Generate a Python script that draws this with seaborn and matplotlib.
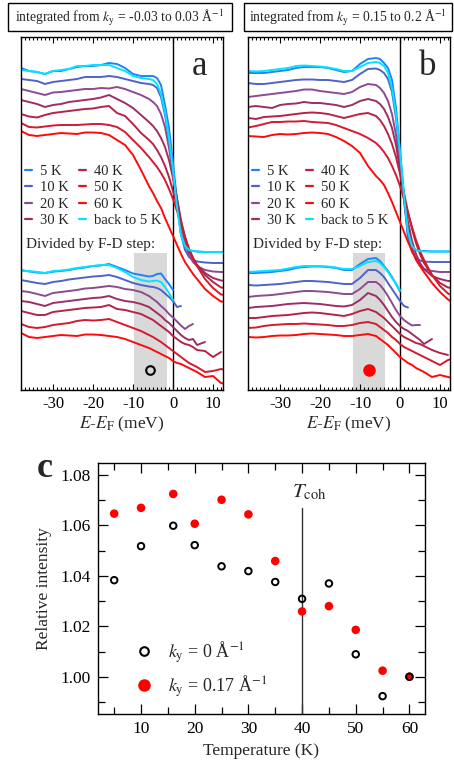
import numpy as np
import pandas as pd
import matplotlib
matplotlib.use("Agg")
import matplotlib.pyplot as plt
import seaborn as sns
from matplotlib.lines import Line2D
from matplotlib.patches import Rectangle
from matplotlib.ticker import MultipleLocator, FormatStrFormatter

NA = np.nan

# ---------------- energy axis shared by all spectra (meV) ----------------
energy = [-38, -36, -34, -32, -30, -28, -26, -24, -22, -20, -18, -16, -14, -12, -10, -8,
          -6, -5, -4, -3, -2, -1, 0, 1, 2, 3, 4, 5, 6, 8, 10, 12, 13]

temp_labels = ["5 K", "10 K", "20 K", "30 K", "40 K", "50 K", "60 K", "back to 5 K"]
temp_colors = ["#1e82ff", "#4f62c9", "#8b4a93", "#9e2d62", "#b52347", "#d41a2e", "#ff0a0a", "#00e5ff"]

# ---------------- panel a: k_y = -0.03 .. 0.03, raw EDCs (offset, arb. units) ----------------
raw_a_5 = [322, 319, 318, 316, 319, 319, 321, 323, 324, 324, 325, 327, 326, 322, 316, 314,
           314, 314, 312, 305, 285, 262, 227, 190, 155, 144, 140, 139, 138.5, 138, 138, 138, 138]
raw_a_10 = [311, 310, 309, 306, 308, 309, 310, 311, 313, 313, 313, 314, 313, 311, 309, 307,
            306, 305, 302, 293, 275, 250, 218, 185, 156, 140, 133, 130, 128.5, 127.5, 127, 127, 127]
raw_a_20 = [301, 299, 297, 295, 297.5, 298, 299, 300, 301, 301, 302, 301.5, 303, 301, 298, 295,
            291, 288, 284, 276, 263, 242, 216, 190, 166, 147, 135, 128, 124, 120, 118.5, 118, 118]
raw_a_30 = [290, 288, 286, 283, 285, 286, 288, 289, 290, 291, 292.5, 295, 291, 287, 282, 275,
            268, 264, 259, 252, 243, 230, 212, 192, 170, 152, 139, 131, 125, 117, 112, 109.5, 109]
raw_a_40 = [276, 273.5, 272.5, 275, 277, 278, 279, 280, 281, 281.5, 283, 284, 277, 274, 266, 257,
            250, 246, 240, 233, 224, 213, 199, 184, 168, 153, 141, 132, 125, 115, 108, 102.5, 102]
raw_a_50 = [267, 263, 262.5, 263.5, 264.5, 265, 265, 265, 265.5, 266, 266, 265, 263, 258, 250, 242,
            233, 228, 223, 217, 210, 201, 191, 179, 166, 153, 141, 132, 124, 111, 102, 95.5, 95]
raw_a_60 = [259, 255, 254, 255, 256, 257, 256.5, 256, 257.5, 257.5, 257, 255, 250, 245, 235, 220,
            204, 197, 189, 182, 172, 163, 154, 145, 136, 128, 122, 116, 111, 101, 94, 88.5, 88]
raw_a_back = [320, 319, 318, 316, 319, 320, 321, 324, 324, 325, 325, 325, 322, 319, 314, 312,
              311, 310, 306, 296, 278, 252, 220, 183, 155, 144, 140, 139, 138.5, 138, 138, 138, 138]

# panel a: EDCs divided by the Fermi-Dirac step
div_a_5 = [120, 118.5, 117.5, 117, 118.3, 119, 120, 121.5, 122.5, 124, 124.5, 126, 123, 120, 116.5, 115,
           113.5, 114, 116, 116.5, 111, 106, 100, NA, NA, NA, NA, NA, NA, NA, NA, NA, NA]
div_a_10 = [110, 108.5, 107, 106, 108, 109, 110.5, 111.5, 112.5, 113.5, 114, 115, 113, 110, 107, 105,
            103.5, 103, 102, 100, 96.5, 93, 89, 83, 84, NA, NA, NA, NA, NA, NA, NA, NA]
div_a_20 = [99, 98, 96, 94, 97, 98, 99, 100, 101.5, 102, 103, 104, 103, 101, 100, 98,
            94, 91, 88, 84, 80.5, 76, 72.5, 68.5, 64.5, 61, 64, 66, NA, NA, NA, NA, NA]
div_a_30 = [89, 88, 86, 84, 87, 88, 89, 90, 91, 92, 92.5, 94, 91, 89, 88, 86,
            83, 80, 77, 74, 70, 67, 63, 59, 55, 52, 50, 51, 45, 48, NA, NA, NA]
div_a_40 = [79, 77, 75, 75, 78, 79, 80, 81, 82, 82.5, 83, 85, 81, 80, 78, 76,
            72, 70, 67, 64, 61, 58, 54, 51, 48, 46, 45, 43, 40, 39, 33, 38, NA]
div_a_50 = [66, 63, 62, 63, 65, 66, 67, 69, 70, 69.5, 70, 71, 68, 65, 62, 59,
            55, 53, 50.5, 48, 45, 42, 39, 36, 33, 30, 27, 25, 23, 18, 19, 21, 20]
div_a_60 = [57, 53, 52, 53, 54, 55, 54.5, 54, 55.5, 55.5, 55, 54, 53, 51, 48, 45,
            42, 40, 38, 36, 34, 32, 29, 27, 26, 24, 22, 20, 18, 13, 14, 7, 6]
div_a_back = [119, 119, 118, 117, 119, 119.5, 120.5, 122, 123, 124, 125, 125, 122, 118, 113, 110,
              108.5, 109, 109.5, 108, 103, 97, 90, NA, NA, NA, NA, NA, NA, NA, NA, NA, NA]

# ---------------- panel b: k_y = 0.15 .. 0.2, raw EDCs ----------------
raw_b_5 = [317, 317, 317, 318, 319, 320, 322, 323, 323, 323, 322, 320, 318, 319, 326, 331,
           332, 331, 327, 322, 310, 282, 240, 195, 152, 143, 140, 139, 139, 138.5, 138.5, 138.5, 138.5]
raw_b_10 = [307, 306, 306, 307, 308, 309, 310, 310.5, 310.5, 310, 310, 309, 308, 310, 316, 321,
            321.5, 320, 317, 311, 298, 272, 233, 190, 154, 138, 132, 129.5, 128.5, 128, 128, 128, 128]
raw_b_20 = [293, 294, 295, 296, 297, 298, 299, 300.5, 300.5, 299, 298, 297, 296, 298, 303, 306,
            305, 302, 297, 289, 276, 255, 224, 190, 161, 142, 130, 124, 121, 119, 118, 118, 118]
raw_b_30 = [283, 284, 283, 282, 285, 286, 286.5, 288, 287, 287, 286, 285, 283, 285, 289, 291,
            289, 286, 281, 273, 262, 245, 220, 193, 168, 149, 136, 127, 121, 114, 111, 109, 109]
raw_b_40 = [272, 271, 273, 273.5, 274, 275, 276, 277, 277.5, 277, 276, 274, 272, 274, 276, 277,
            274, 270, 264, 256, 246, 233, 216, 197, 178, 161, 147, 136, 127, 115, 107, 102.5, 102]
raw_b_50 = [262.5, 264, 266, 268, 268, 268.5, 268.5, 269, 268, 267.5, 267, 265, 262, 259, 256, 252,
            247, 243, 238, 232, 224, 215, 204, 191, 177, 163, 150, 139, 130, 115, 104, 96.5, 95]
raw_b_60 = [254, 253.5, 253, 255, 256, 255.5, 256, 257, 257.5, 257, 256, 253, 249, 244, 237, 224,
            214, 210, 205, 197, 188, 178, 168, 158, 148, 139, 131, 124, 118, 107, 98, 90.5, 88]
raw_b_back = [319, 318.5, 319, 320, 321, 322, 324, 324.5, 324, 323.5, 322.5, 321, 319, 319, 323, 327,
              328, 327, 324, 317, 302, 276, 237, 194, 158, 144, 140, 139, 138.5, 138.5, 138.5, 138.5, 138.5]

# panel b: EDCs divided by the Fermi-Dirac step
div_b_5 = [117, 117, 117.5, 118, 119, 120, 122, 123, 123.5, 123.5, 123, 122, 120, 120, 126, 131,
           132, 129, 124, 119, 113, 106, 98.5, NA, NA, NA, NA, NA, NA, NA, NA, NA, NA]
div_b_10 = [105, 104.5, 105, 105.5, 106, 107, 108, 109, 109, 108.5, 108, 107, 106, 106, 112, 120,
            120, 117, 113, 107, 101, 95, 89, 84, 82.5, NA, NA, NA, NA, NA, NA, NA, NA]
div_b_20 = [93, 94, 94.5, 95, 96, 97, 98, 99, 99, 98.5, 98, 97, 96, 96, 101, 108,
            108, 105, 100, 94, 87, 80, 74, 70, 67, 64.5, 65, 65, NA, NA, NA, NA, NA]
div_b_30 = [82, 83, 83.5, 84, 85, 86, 86.5, 87, 86.5, 86, 85, 84, 83.5, 85, 90, 97,
            94, 90, 85, 79, 73, 68, 64, 61, 59, 56, 53, 50, 46, 51, NA, NA, NA]
div_b_40 = [72, 72, 73, 74, 74.5, 75, 76, 77, 77.5, 77, 76, 75, 74, 76, 79, 81,
            78, 75, 72, 68, 64, 60, 56, 53, 51, 49, 47, 46, 44, 40, 37, 35, NA]
div_b_50 = [62, 62.5, 64, 65, 65.5, 66, 66, 66.5, 66, 65.5, 65, 64, 64, 65, 67, 68,
            66, 63, 60, 57, 53, 50, 46, 43, 41, 39, 37, 35, 33, 29, 25, 30, 31]
div_b_60 = [53, 52.5, 53, 54, 54.5, 54.5, 55, 56, 56.5, 56, 55.5, 55, 54, 54, 55, 56,
            54, 51, 48, 45, 41, 37, 33, 30, 27, 25, 22, 20, 18, 13, 15, 13, 12]
div_b_back = [118, 118.5, 119, 119.5, 120, 121.5, 123, 124, 124, 124, 123.5, 122.5, 121, 121, 124, 128,
              129, 127, 123, 118, 112, 106, 100, NA, NA, NA, NA, NA, NA, NA, NA, NA, NA]

# integration windows (meV) and the corresponding marker height
window_a = (-9.75, -1.6)
window_b = (-11.8, -3.65)
window_top = 137
marker_level = 20

# ---------------- panel c: relative intensity vs temperature ----------------
temps_c = [5, 10, 16, 20, 25, 30, 35, 40, 45, 50, 55, 60]
rel_k0 = [1.0383, 1.0518, 1.0599, 1.0522, 1.0438, 1.0419, 1.0376, 1.0309, 1.0370, 1.0089, 0.9923, 1.0000]
rel_k017 = [1.0647, 1.0670, 1.0725, 1.0607, 1.0702, 1.0644, 1.0459, 1.0259, 1.0280, 1.0186, 1.0024, 1.0000]
t_coh = 40

# ---------------- style ----------------
sns.set_theme(style="ticks")
plt.rcParams["font.family"] = ["Liberation Serif", "DejaVu Serif"]
plt.rcParams["mathtext.fontset"] = "stix"
plt.rcParams["axes.unicode_minus"] = False
plt.rcParams["axes.edgecolor"] = "black"
plt.rcParams["axes.linewidth"] = 1.0
plt.rcParams["xtick.color"] = "black"
plt.rcParams["ytick.color"] = "black"

W, H = 454, 773
fig = plt.figure(figsize=(W / 100, H / 100), dpi=100)


def frame(x0, y0, x1, y1):
    return [x0 / W, 1 - y1 / H, (x1 - x0) / W, (y1 - y0) / H]


palette = dict(zip(temp_labels, temp_colors))


def long_form(sets):
    parts = [pd.DataFrame({"E": energy, "I": vals, "T": lab}) for lab, vals in zip(temp_labels, sets)]
    return pd.concat(parts, ignore_index=True).dropna()


def spectra_panel(ax, raw_sets, div_sets, window, letter, filled):
    ax.add_patch(Rectangle((window[0], 0), window[1] - window[0], window_top,
                           facecolor="#d9d9d9", edgecolor="none", zorder=0))
    ax.axvline(0, color="black", lw=1.0, zorder=1)
    for sets in (raw_sets, div_sets):
        sns.lineplot(data=long_form(sets), x="E", y="I", hue="T", hue_order=temp_labels,
                     palette=palette, estimator=None, sort=False, legend=False,
                     lw=1.4, ax=ax, zorder=2)
    mx = 0.5 * (window[0] + window[1])
    if filled:
        ax.plot([mx], [marker_level], "o", ms=8, mfc="#ff0000", mec="#ff0000", zorder=4)
    else:
        ax.plot([mx], [marker_level], "o", ms=6.2, mfc="none", mec="black", mew=1.5, zorder=4)

    ax.set_xlim(-38, 12.5)
    ax.set_ylim(0, 353)
    ax.set_yticks([])
    ax.xaxis.set_major_locator(MultipleLocator(10))
    ax.xaxis.set_minor_locator(MultipleLocator(1))
    ax.tick_params(axis="x", which="both", direction="in", top=True, bottom=True, width=0.8)
    ax.tick_params(axis="x", which="major", length=4.5, labelsize=12, pad=4)
    ax.tick_params(axis="x", which="minor", length=2.5)
    ax.set_xlabel(r"$E$-$E_\mathrm{F}$ (meV)", fontsize=12.5, labelpad=2)
    ax.set_ylabel("")

    ax.text(0.845, 0.892, letter, transform=ax.transAxes, fontsize=25,
            ha="left", va="baseline")
    ax.text(-36.8, 142, "Divided by F-D step:", fontsize=11, ha="left", va="baseline")

    handles = [Line2D([0], [0], color=palette[l], lw=1.6) for l in temp_labels]
    ax.legend(handles, temp_labels, ncol=2, loc="upper left", bbox_to_anchor=(0.02, 0.638),
              frameon=False, fontsize=10.5, handlelength=0.45, handletextpad=0.55,
              columnspacing=0.75, labelspacing=0.22, borderpad=0, borderaxespad=0)


ax_a = fig.add_axes(frame(21, 37, 223, 390))
ax_b = fig.add_axes(frame(248, 37, 450, 390))

spectra_panel(ax_a,
              [raw_a_5, raw_a_10, raw_a_20, raw_a_30, raw_a_40, raw_a_50, raw_a_60, raw_a_back],
              [div_a_5, div_a_10, div_a_20, div_a_30, div_a_40, div_a_50, div_a_60, div_a_back],
              window_a, "a", filled=False)
spectra_panel(ax_b,
              [raw_b_5, raw_b_10, raw_b_20, raw_b_30, raw_b_40, raw_b_50, raw_b_60, raw_b_back],
              [div_b_5, div_b_10, div_b_20, div_b_30, div_b_40, div_b_50, div_b_60, div_b_back],
              window_b, "b", filled=True)

# boxed headers above the spectra
for (x0, x1), txt in [((8, 232), r"integrated from $k_\mathrm{y}$ = -0.03 to 0.03 Å$^{-1}$"),
                      ((244, 452), r"integrated from $k_\mathrm{y}$ = 0.15 to 0.2 Å$^{-1}$")]:
    fig.add_artist(Rectangle((x0 / W, 1 - 31 / H), (x1 - x0) / W, 28 / H,
                             transform=fig.transFigure, fill=False, edgecolor="black", lw=1.0))
    fig.text((x0 + x1) / 2 / W, 1 - 18 / H, txt, fontsize=9.8, ha="center", va="center")

# ---------------- panel c ----------------
ax_c = fig.add_axes(frame(97.7, 462.7, 425, 714.3))
ylo, yhi = 0.9851, 1.0849
ax_c.set_xlim(1.93, 62.9)
ax_c.set_ylim(ylo, yhi)
ax_c.axvline(t_coh, ymin=0, ymax=(1.0668 - ylo) / (yhi - ylo), color="#333333", lw=1.0, zorder=1)
ax_c.text(38.2, 1.0712, r"$T_\mathrm{coh}$", fontsize=15, ha="left", va="baseline")

sns.scatterplot(x=temps_c, y=rel_k017, color="#ff0000", s=38, edgecolor="none",
                ax=ax_c, zorder=3, legend=False)
sns.scatterplot(x=temps_c, y=rel_k0, facecolors="none", edgecolor="black", linewidth=1.4,
                s=22, ax=ax_c, zorder=4, legend=False)

ax_c.yaxis.set_major_locator(MultipleLocator(0.02))
ax_c.yaxis.set_minor_locator(MultipleLocator(0.01))
ax_c.yaxis.set_major_formatter(FormatStrFormatter("%.2f"))
ax_c.xaxis.set_major_locator(MultipleLocator(10))
ax_c.xaxis.set_minor_locator(MultipleLocator(5))
ax_c.tick_params(which="both", direction="in", top=True, right=True, width=0.9)
ax_c.tick_params(which="major", length=7, labelsize=12.5, pad=5)
ax_c.tick_params(which="minor", length=5)
ax_c.set_xlabel("Temperature (K)", fontsize=12.5, labelpad=4)
ax_c.set_ylabel("Relative intensity", fontsize=12.5, labelpad=6)

leg_handles = [Line2D([0], [0], ls="none", marker="o", ms=6.2, mfc="none", mec="black", mew=1.5),
               Line2D([0], [0], ls="none", marker="o", ms=8, mfc="#ff0000", mec="#ff0000")]
ax_c.legend(leg_handles, [r"$k_\mathrm{y}$ = 0 Å$^{-1}$", r"$k_\mathrm{y}$ = 0.17 Å$^{-1}$"],
            loc="center left", bbox_to_anchor=(0.114, 0.18), frameon=False, fontsize=13,
            handlelength=1.0, handletextpad=0.8, labelspacing=0.45, borderpad=0, borderaxespad=0)

fig.text(37 / W, 1 - 477 / H, "c", fontsize=26, fontweight="bold", ha="left", va="baseline")

fig.savefig("out.png", dpi=100)
